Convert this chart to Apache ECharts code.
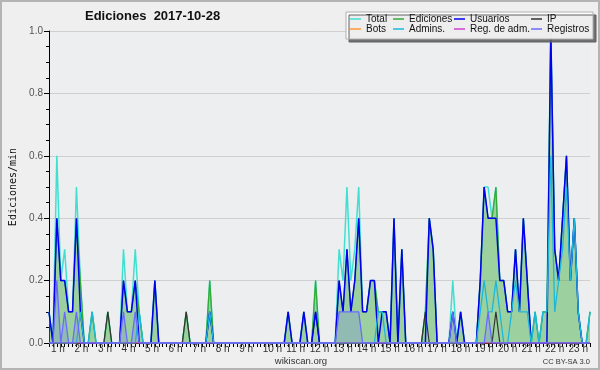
<!DOCTYPE html>
<html><head><meta charset="utf-8">
<script src="https://cdn.jsdelivr.net/npm/echarts@6/dist/echarts.min.js"></script>
<style>html,body{margin:0;padding:0;background:#efefef}#c{width:600px;height:370px}</style>
</head><body><div id="c"></div>
<script>
// 10-minute slots (139 points), values in edits/min
const hourLabels = ['1 h','2 h','3 h','4 h','5 h','6 h','7 h','8 h','9 h','10 h','11 h','12 h','13 h','14 h','15 h','16 h','17 h','18 h','19 h','20 h','21 h','22 h','23 h'];
const total = [
0.1,0,0.6,0.2,0.3,0.1, 0.1,0.5,0.2,0,0,0.1, 0,0,0,0.1,0,0, 0,0.3,0.1,0.1,0.3,0.1,
0,0,0,0.2,0,0, 0,0,0,0,0,0.1, 0,0,0,0,0,0.2, 0,0,0,0,0,0,
0,0,0,0,0,0, 0,0,0,0,0,0, 0,0.1,0,0,0,0.1, 0,0,0.2,0,0,0,
0,0,0.3,0.2,0.5,0.2, 0.3,0.5,0.1,0.1,0.2,0.2, 0.1,0.1,0.1,0,0.4,0, 0.3,0,0,0,0,0,
0.1,0.4,0.3,0,0,0, 0,0.2,0,0.1,0,0, 0,0,0.2,0.5,0.5,0.4, 0.5,0.2,0.2,0.1,0.1,0.3,
0.1,0.4,0.2,0,0.1,0, 0.1,0.1,1.0,0.3,0.2,0.4, 0.6,0.2,0.4,0.1,0,0, 0.1];
const ediciones = [
0.1,0,0.4,0.2,0.2,0.1, 0.1,0.4,0.2,0,0,0.1, 0,0,0,0.1,0,0, 0,0.2,0.1,0.1,0.2,0.1,
0,0,0,0.2,0,0, 0,0,0,0,0,0.1, 0,0,0,0,0,0.2, 0,0,0,0,0,0,
0,0,0,0,0,0, 0,0,0,0,0,0, 0,0.1,0,0,0,0.1, 0,0,0.2,0,0,0,
0,0,0.2,0.1,0.3,0.1, 0.2,0.4,0.1,0.1,0.2,0.2, 0.1,0.1,0.1,0,0.4,0, 0.3,0,0,0,0,0,
0.1,0.4,0.3,0,0,0, 0,0.1,0,0.1,0,0, 0,0,0.2,0.5,0.4,0.4, 0.5,0.2,0.2,0.1,0.1,0.3,
0.1,0.4,0.2,0,0.1,0, 0.1,0.1,1.0,0.3,0.2,0.4, 0.6,0.2,0.4,0.1,0,0, 0.1];
const usuarios = [
0.1,0,0.4,0.2,0.2,0.1, 0.1,0.4,0.1,0,0,0, 0,0,0,0,0,0, 0,0.2,0.1,0.1,0.2,0,
0,0,0,0.2,0,0, 0,0,0,0,0,0, 0,0,0,0,0,0.1, 0,0,0,0,0,0,
0,0,0,0,0,0, 0,0,0,0,0,0, 0,0.1,0,0,0,0.1, 0,0,0.1,0,0,0,
0,0,0.2,0.1,0.3,0.1, 0.2,0.4,0.1,0.1,0.2,0.2, 0,0.1,0.1,0,0.4,0, 0.3,0,0,0,0,0,
0,0.4,0.3,0,0,0, 0,0.1,0,0.1,0,0, 0,0,0.2,0.5,0.4,0.4, 0.4,0.2,0.2,0.1,0.1,0.3,
0.1,0.4,0.2,0,0,0, 0,0,1.0,0.3,0.2,0.4, 0.6,0.2,0.4,0.1,0,0, 0];
const ip = [
0,0,0,0,0,0, 0,0,0,0,0,0, 0,0,0,0.1,0,0, 0,0,0,0,0,0,
0,0,0,0,0,0, 0,0,0,0,0,0.1, 0,0,0,0,0,0.1, 0,0,0,0,0,0,
0,0,0,0,0,0, 0,0,0,0,0,0, 0,0,0,0,0,0, 0,0,0.1,0,0,0,
0,0,0,0,0,0, 0,0,0,0,0,0, 0,0,0,0,0,0, 0,0,0,0,0,0,
0.1,0,0,0,0,0, 0,0,0,0,0,0, 0,0,0,0,0,0, 0.1,0,0,0,0,0,
0,0,0,0,0,0, 0,0,0,0,0,0, 0,0,0,0,0,0, 0];
const bots = [
0,0,0,0,0,0, 0,0,0,0,0,0, 0,0,0,0,0,0, 0,0,0,0,0,0,
0,0,0,0,0,0, 0,0,0,0,0,0, 0,0,0,0,0,0, 0,0,0,0,0,0,
0,0,0,0,0,0, 0,0,0,0,0,0, 0,0,0,0,0,0, 0,0,0,0,0,0,
0,0,0,0,0,0, 0,0,0,0,0,0, 0,0,0,0,0,0, 0,0,0,0,0,0,
0,0,0,0,0,0, 0,0,0,0,0,0, 0,0,0,0,0,0, 0,0,0,0,0,0,
0,0,0,0,0,0, 0,0,0,0,0,0, 0,0,0,0,0,0, 0];
const admins = [
0,0,0,0,0,0, 0,0,0.1,0,0,0.1, 0,0,0,0,0,0, 0,0,0,0,0,0.1,
0,0,0,0,0,0, 0,0,0,0,0,0, 0,0,0,0,0,0.1, 0,0,0,0,0,0,
0,0,0,0,0,0, 0,0,0,0,0,0, 0,0,0,0,0,0, 0,0,0,0,0,0,
0,0,0,0,0,0, 0,0,0,0,0,0, 0.1,0.1,0,0,0,0, 0,0,0,0,0,0,
0,0,0,0,0,0, 0,0,0,0,0,0, 0,0,0.1,0.2,0.1,0.1, 0.2,0.1,0,0,0.1,0.2,
0.1,0.1,0.1,0,0.1,0, 0.1,0.1,0.6,0.1,0.2,0.3, 0.5,0.2,0.4,0.1,0,0, 0.1];
const regAdm = [
0,0,0,0,0,0, 0,0,0,0,0,0, 0,0,0,0,0,0, 0,0,0,0,0,0,
0,0,0,0,0,0, 0,0,0,0,0,0, 0,0,0,0,0,0, 0,0,0,0,0,0,
0,0,0,0,0,0, 0,0,0,0,0,0, 0,0,0,0,0,0, 0,0,0,0,0,0,
0,0,0,0,0,0, 0,0,0,0,0,0, 0,0,0,0,0,0, 0,0,0,0,0,0,
0,0,0,0,0,0, 0,0,0,0,0,0, 0,0,0,0,0,0, 0,0,0,0,0,0,
0,0,0,0,0,0, 0,0,0,0,0,0, 0,0,0,0,0,0, 0];
const registros = [
0,0,0.2,0,0.1,0, 0,0.1,0,0,0,0, 0,0,0,0,0,0, 0,0.1,0,0,0.1,0,
0,0,0,0,0,0, 0,0,0,0,0,0, 0,0,0,0,0,0, 0,0,0,0,0,0,
0,0,0,0,0,0, 0,0,0,0,0,0, 0,0,0,0,0,0, 0,0,0,0,0,0,
0,0,0.1,0.1,0.1,0.1, 0.1,0.1,0,0,0,0, 0,0,0,0,0,0, 0,0,0,0,0,0,
0,0,0,0,0,0, 0,0.1,0,0,0,0, 0,0,0,0,0.1,0, 0,0,0,0,0,0,
0,0,0,0,0,0, 0,0,0,0,0,0, 0,0,0,0,0,0, 0];

const FONT = '"Liberation Sans", Arial, sans-serif';
function pts(arr){ return arr.map((v,i)=>[i,v]); }
function ln(name, data, color, width, z, area){
  const s = {name, type:'line', data:pts(data), symbol:'none', showSymbol:false, color,
    lineStyle:{color, width}, z, animation:false, emphasis:{disabled:true}};
  if (area) s.areaStyle = {color: area, opacity:1};
  return s;
}
const chart = echarts.init(document.getElementById('c'));
const legBase = {orient:'vertical', top:14, itemGap:0, itemWidth:11, itemHeight:1.5, icon:'rect',
  textStyle:{fontFamily:FONT, fontSize:10, color:'#111', lineHeight:10}, selectedMode:false, z:60, padding:0};
chart.setOption({
  animation:false,
  backgroundColor:'#efefef',
  grid:{left:46, right:10, top:31, bottom:27, show:true, backgroundColor:'#eceef0', borderWidth:0},
  xAxis:{type:'value', min:0, max:138, interval:6,
    axisLine:{lineStyle:{color:'#000', width:1}},
    axisTick:{length:4, lineStyle:{color:'#000'}},
    minorTick:{show:true, splitNumber:6, length:4, lineStyle:{color:'#000'}},
    splitLine:{show:false},
    axisLabel:{margin:1, align:'left', padding:[0,0,0,2], fontFamily:FONT, fontSize:10, color:'#333',
      formatter:v=> (v%6===0 && v/6 < hourLabels.length) ? hourLabels[v/6] : ''}},
  yAxis:{type:'value', min:0, max:1, interval:0.2,
    name:'Ediciones/min', nameLocation:'middle', nameGap:31, nameRotate:90,
    nameTextStyle:{fontFamily:'"DejaVu Sans Mono", monospace', fontSize:10, color:'#111'},
    axisLine:{show:true, lineStyle:{color:'#000', width:1}},
    axisTick:{show:true, length:5, lineStyle:{color:'#000'}},
    minorTick:{show:true, splitNumber:4, length:3, lineStyle:{color:'#000'}},
    splitLine:{show:true, lineStyle:{color:'#cfcfcf', width:1}},
    axisLabel:{margin:6, fontFamily:FONT, fontSize:10, color:'#555', formatter:v=>v.toFixed(1)}},
  legend:[
    Object.assign({left:350, data:['Total','Bots']}, legBase),
    Object.assign({left:393, data:['Ediciones','Admins.']}, legBase),
    Object.assign({left:454, data:['Usuarios','Reg. de adm.']}, legBase),
    Object.assign({left:531, data:['IP','Registros']}, legBase)
  ],
  graphic:[
    {type:'rect', z:50, shape:{x:346, y:12, width:247, height:27},
      style:{fill:'rgba(255,255,255,0.88)', stroke:'#b0b0b0', lineWidth:1, shadowColor:'#606060', shadowOffsetX:3, shadowOffsetY:3, shadowBlur:0}},
    {type:'text', z:60, left:85, top:10, style:{text:'Ediciones  2017-10-28', fontFamily:FONT, fontSize:13, fontWeight:'bold', fill:'#111'}},
    {type:'text', z:60, x:301, y:356, style:{text:'wikiscan.org', fontFamily:FONT, fontSize:9.5, fill:'#333', align:'center'}},
    {type:'text', z:60, x:590, y:358, style:{text:'CC BY-SA 3.0', fontFamily:FONT, fontSize:7.5, fill:'#333', align:'right'}},
    {type:'rect', z:100, silent:true, shape:{x:1, y:1, width:598, height:368}, style:{fill:'none', stroke:'#b4b4b4', lineWidth:2}}
  ],
  series:[
    ln('Total', total, '#40e0d0', 1.5, 2),
    ln('Ediciones', ediciones, '#33aa33', 1.2, 3, 'rgba(60,170,60,0.45)'),
    ln('IP', ip, '#333333', 1.2, 4),
    ln('Usuarios', usuarios, '#0000ee', 1.5, 5),
    ln('Bots', bots, '#ff9933', 1, 6),
    ln('Admins.', admins, '#1cb8dc', 1.3, 7),
    ln('Reg. de adm.', regAdm, '#d040d0', 1, 8),
    ln('Registros', registros, '#6a6aff', 1.3, 9, 'rgba(106,106,255,0.2)')
  ]
});
</script></body></html>
